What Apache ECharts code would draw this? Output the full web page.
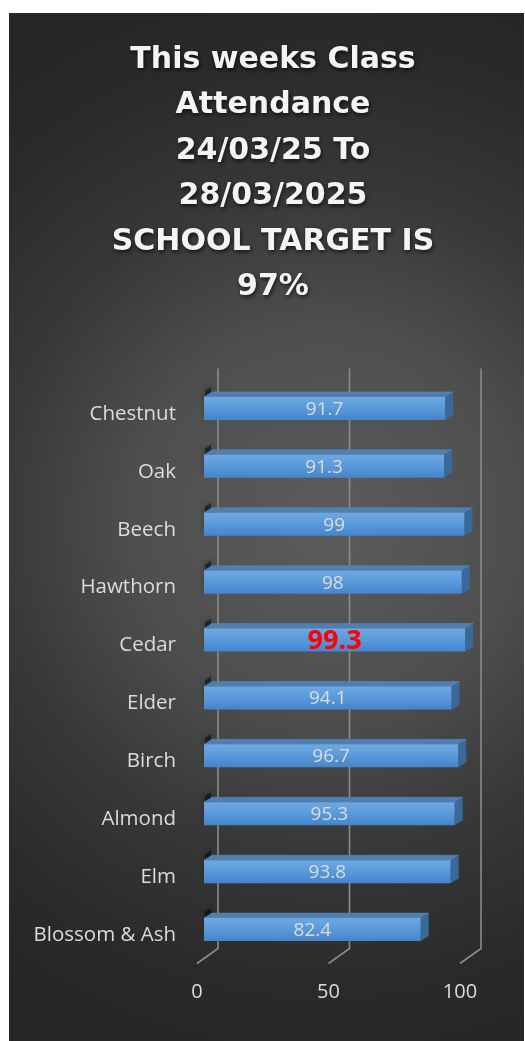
<!DOCTYPE html>
<html>
<head>
<meta charset="utf-8">
<script src="https://cdn.jsdelivr.net/npm/echarts@6/dist/echarts.min.js"></script>
<style>
  html, body { margin: 0; padding: 0; background: #fff; }
  #chart { width: 525px; height: 1041px; }
</style>
</head>
<body>
<div id="chart"></div>
<script>
// class names, top to bottom
const classes = ['Chestnut', 'Oak', 'Beech', 'Hawthorn', 'Cedar', 'Elder', 'Birch', 'Almond', 'Elm', 'Blossom & Ash']
const attendance = [91.7, 91.3, 99, 98, 99.3, 94.1, 96.7, 95.3, 93.8, 82.4]
const xTicks = [0, 50, 100]
const highlight = 'Cedar'

const titleText = 'This weeks Class\nAttendance\n24/03/25 To\n28/03/2025\nSCHOOL TARGET IS\n97%'

var chart = echarts.init(document.getElementById('chart'))

// 3d-ish box for each bar
const DX = 8, DY = -5, H = 23

function renderBar(params, api) {
  const v = api.value(0)
  const cat = api.value(1)
  const p0 = api.coord([0, cat])
  const p1 = api.coord([v, cat])
  const x0 = p0[0], x1 = p1[0]
  const y0 = p0[1] - H / 2
  const name = classes[cat]
  const isHi = name === highlight
  return {
    type: 'group',
    children: [
      { // shadow on the wall
        type: 'polygon',
        shape: { points: [[x0 + 1, y0 - 6], [x0 + 7, y0 - 10], [x0 + 7, y0 + H - 8], [x0 + 1, y0 + H - 4]] },
        style: { fill: 'rgba(0,0,0,0.45)', shadowBlur: 6, shadowColor: 'rgba(0,0,0,0.85)' }
      },
      {
        type: 'polygon',
        shape: { points: [[x0, y0], [x0 + DX, y0 + DY], [x1 + DX, y0 + DY], [x1, y0]] },
        style: { fill: '#4f7fb0', stroke: '#5b8cc0', lineWidth: 0.5 }
      },
      {
        type: 'polygon',
        shape: { points: [[x1, y0], [x1 + DX, y0 + DY], [x1 + DX, y0 + H + DY], [x1, y0 + H]] },
        style: { fill: '#3a6899' }
      },
      {
        type: 'rect',
        shape: { x: x0, y: y0, width: x1 - x0, height: H },
        style: {
          fill: new echarts.graphic.LinearGradient(0, 0, 0, 1, [
            { offset: 0, color: '#6fa8e2' },
            { offset: 0.45, color: '#5b9bdb' },
            { offset: 1, color: '#4684cb' }
          ])
        }
      },
      {
        type: 'text',
        style: {
          text: String(v),
          x: (x0 + x1) / 2,
          y: y0 + H / 2 + 1,
          align: 'center',
          verticalAlign: 'middle',
          fill: isHi ? '#ff0000' : '#dcdcdc',
          font: isHi ? 'bold 27px "Open Sans"' : '19px "Open Sans"'
        }
      }
    ]
  }
}

// gridlines on the back wall, with a floor stroke towards the front
function renderGrid(params, api) {
  const cs = params.coordSys
  const x = api.coord([api.value(0), 0])[0]
  const top = cs.y - 11
  const bottom = cs.y + cs.height - 10
  return {
    type: 'polyline',
    shape: { points: [[x + 14, top], [x + 14, bottom], [x - 7, bottom + 15]] },
    style: { stroke: '#8a8a8a', lineWidth: 1.6, fill: null }
  }
}

const option = {
  backgroundColor: {
    type: 'radial', x: 0.62, y: 0.5, r: 1.05,
    colorStops: [
      { offset: 0, color: '#5c5c5c' },
      { offset: 0.35, color: '#4e4e4e' },
      { offset: 0.6, color: '#383838' },
      { offset: 0.85, color: '#2a2a2a' },
      { offset: 1, color: '#262626' }
    ]
  },
  animation: false,
  title: {
    text: titleText,
    left: 268,
    top: 32,
    textAlign: 'center',
    textStyle: {
      color: '#f4f4f4',
      fontFamily: 'DejaVu Sans',
      fontWeight: 'bold',
      fontSize: 30,
      lineHeight: 45.5,
      textShadowColor: 'rgba(0,0,0,0.7)',
      textShadowBlur: 4,
      textShadowOffsetX: 1,
      textShadowOffsetY: 2
    }
  },
  grid: [
    { left: 204, right: 58, top: 379.5, bottom: 82.5 },
    { left: 197, right: 65, top: 380, bottom: 62 }
  ],
  xAxis: [
    {
      gridIndex: 0, type: 'value', min: 0, max: 100, interval: 50,
      axisLine: { show: false }, axisTick: { show: false },
      axisLabel: { show: false }, splitLine: { show: false }
    },
    {
      gridIndex: 1, type: 'value', min: 0, max: 100, interval: 50,
      axisLine: { show: false }, axisTick: { show: false }, splitLine: { show: false },
      axisLabel: {
        margin: 3,
        color: '#dcdcdc', fontSize: 20, fontFamily: 'Open Sans',
        formatter: function (v) { return xTicks.indexOf(v) >= 0 ? String(v) : '' }
      }
    }
  ],
  yAxis: [
    {
      gridIndex: 0, type: 'category', data: classes, inverse: true,
      axisLine: { show: false }, axisTick: { show: false },
      axisLabel: {
        margin: 28,
        color: '#dcdcdc', fontSize: 20.5, fontFamily: 'Open Sans',
        verticalAlign: 'top', lineHeight: 11
      }
    },
    {
      gridIndex: 1, type: 'category', data: classes, show: false
    }
  ],
  series: [
    {
      type: 'custom',
      xAxisIndex: 0, yAxisIndex: 0,
      renderItem: renderGrid,
      data: xTicks.map(t => [t, 0]),
      z: 1,
      silent: true
    },
    {
      type: 'custom',
      xAxisIndex: 0, yAxisIndex: 0,
      renderItem: renderBar,
      encode: { x: 0, y: 1 },
      data: attendance.map((v, i) => [v, i]),
      z: 3
    }
  ],
  graphic: [
    { type: 'rect', shape: { x: 0, y: 0, width: 525, height: 13 }, style: { fill: '#fff' }, z: 100 },
    { type: 'rect', shape: { x: 0, y: 0, width: 9, height: 1041 }, style: { fill: '#fff' }, z: 100 },
    { type: 'rect', shape: { x: 524, y: 0, width: 1, height: 1041 }, style: { fill: '#fff' }, z: 100 }
  ]
}

chart.setOption(option)
</script>
</body>
</html>
